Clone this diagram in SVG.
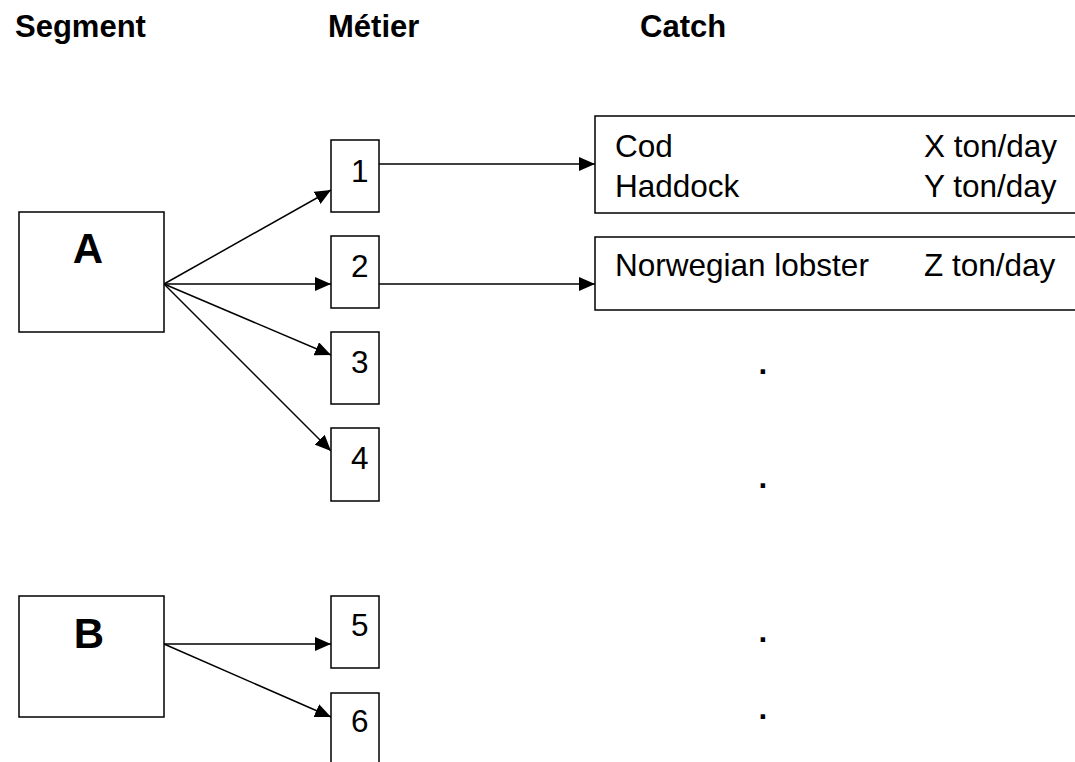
<svg xmlns="http://www.w3.org/2000/svg" width="1075" height="762" viewBox="0 0 1075 762">
<style>
.box{fill:#fff;stroke:#000;stroke-width:1.5}
.hdr{font-family:"Liberation Sans",Arial,sans-serif;font-weight:bold;font-size:31px;fill:#000}
.big{font-family:"Liberation Sans",Arial,sans-serif;font-weight:bold;font-size:42px;fill:#000;text-anchor:middle}
.txt{font-family:"Liberation Sans",Arial,sans-serif;font-size:31.5px;fill:#000}
.dot{font-family:"Liberation Sans",Arial,sans-serif;font-weight:bold;font-size:31.5px;fill:#000;text-anchor:middle}
.con{stroke:#000;stroke-width:1.5;fill:none;marker-end:url(#ah)}
</style>
<defs>
<marker id="ah" markerUnits="userSpaceOnUse" markerWidth="16" markerHeight="14" refX="16" refY="7" orient="auto">
<path d="M0,0 L16,7 L0,14 z" fill="#000"/>
</marker>
</defs>
<rect width="1075" height="762" fill="#fff"/>
<g id="headers">
<text class="hdr" x="15" y="37">Segment</text>
<text class="hdr" x="328" y="37">Métier</text>
<text class="hdr" x="640" y="37">Catch</text>
</g>
<g id="connectors">
<line class="con" x1="164" y1="284" x2="331" y2="190"/>
<line class="con" x1="164" y1="284" x2="331" y2="284"/>
<line class="con" x1="164" y1="284" x2="331" y2="355"/>
<line class="con" x1="164" y1="284" x2="331" y2="451"/>
<line class="con" x1="379" y1="164" x2="595" y2="164"/>
<line class="con" x1="379" y1="284" x2="595" y2="284"/>
<line class="con" x1="164" y1="644" x2="331" y2="644"/>
<line class="con" x1="164" y1="644" x2="331" y2="717"/>
</g>
<g id="segA"><rect class="box" x="19" y="212" width="145" height="120"/><text class="big" x="88" y="263">A</text></g>
<g id="segB"><rect class="box" x="19" y="596" width="145" height="121"/><text class="big" x="89" y="648">B</text></g>
<g id="m1"><rect class="box" x="331" y="140" width="48" height="72"/><text class="txt" x="351" y="182">1</text></g>
<g id="m2"><rect class="box" x="331" y="236" width="48" height="72"/><text class="txt" x="351" y="277">2</text></g>
<g id="m3"><rect class="box" x="331" y="332" width="48" height="72"/><text class="txt" x="351" y="373">3</text></g>
<g id="m4"><rect class="box" x="331" y="428" width="48" height="73"/><text class="txt" x="351" y="469">4</text></g>
<g id="m5"><rect class="box" x="331" y="596" width="48" height="72"/><text class="txt" x="351" y="636">5</text></g>
<g id="m6"><rect class="box" x="331" y="693" width="48" height="80"/><text class="txt" x="351" y="732">6</text></g>
<g id="c1"><rect class="box" x="595" y="116" width="500" height="97"/>
<text class="txt" x="615" y="157">Cod</text><text class="txt" x="924" y="157">X ton/day</text>
<text class="txt" x="615" y="197">Haddock</text><text class="txt" x="924" y="197">Y ton/day</text></g>
<g id="c2"><rect class="box" x="595" y="237" width="500" height="73"/>
<text class="txt" x="615" y="276">Norwegian lobster</text><text class="txt" x="924" y="276">Z ton/day</text></g>
<g id="dots">
<text class="dot" x="763" y="374">.</text>
<text class="dot" x="763" y="488">.</text>
<text class="dot" x="763" y="642">.</text>
<text class="dot" x="763" y="719">.</text>
</g>
</svg>
